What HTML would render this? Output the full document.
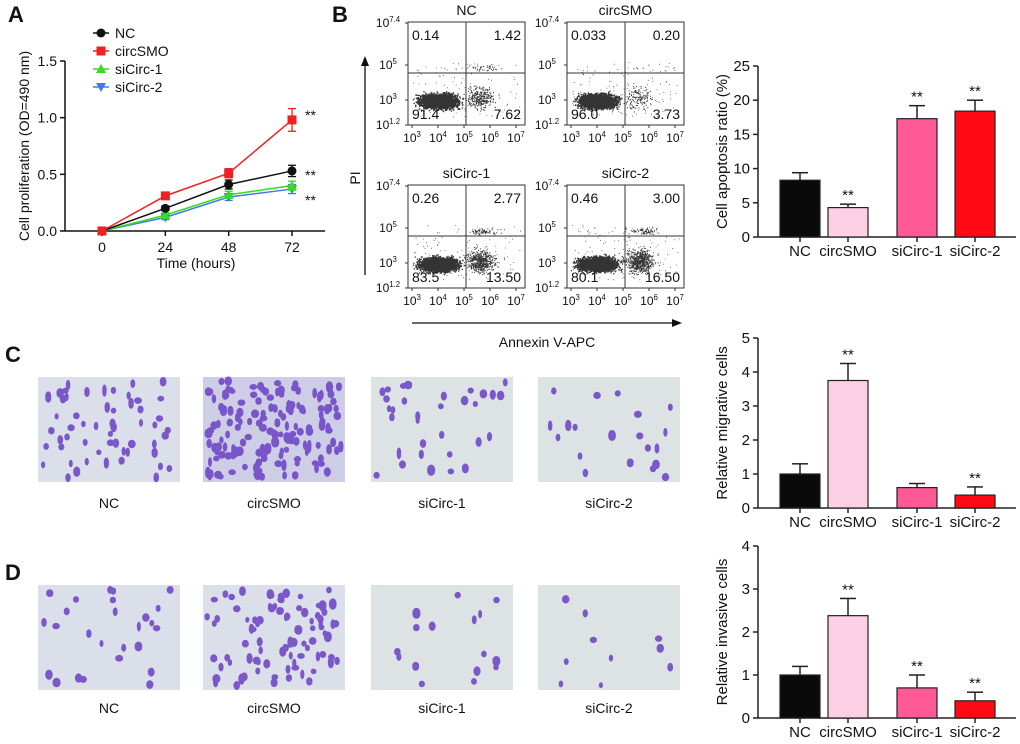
<!DOCTYPE html>
<html><head><meta charset="utf-8"><style>
html,body{margin:0;padding:0;background:#fff;width:1020px;height:744px;overflow:hidden}
svg text{font-family:"Liberation Sans",Arial,sans-serif;fill:#111}
</style></head><body>
<svg id="fig" width="1020" height="744" viewBox="0 0 1020 744" xmlns="http://www.w3.org/2000/svg"></svg>
<script>
// ---- Panel A data ----
const timePoints = [0, 24, 48, 72];
const yTicksA = [0.0, 0.5, 1.0, 1.5];
const ncVals = [0.0, 0.20, 0.41, 0.53];
const ncErr = [0.01, 0.02, 0.04, 0.05];
const smoVals = [0.0, 0.31, 0.51, 0.98];
const smoErr = [0.01, 0.02, 0.04, 0.10];
const si1Vals = [0.0, 0.14, 0.32, 0.40];
const si1Err = [0.01, 0.02, 0.03, 0.04];
const si2Vals = [0.0, 0.12, 0.30, 0.37];
const si2Err = [0.01, 0.02, 0.03, 0.04];
// ---- Bar chart data ----
const groups = ["NC", "circSMO", "siCirc-1", "siCirc-2"];
const apopVals = [8.3, 4.3, 17.3, 18.4];
const apopErr = [1.1, 0.5, 1.9, 1.6];
const apopStars = ["", "**", "**", "**"];
const apopTicks = [0, 5, 10, 15, 20, 25];
const migVals = [1.0, 3.75, 0.6, 0.38];
const migErr = [0.3, 0.5, 0.12, 0.24];
const migStars = ["", "**", "", "**"];
const migTicks = [0, 1, 2, 3, 4, 5];
const invVals = [1.0, 2.38, 0.7, 0.4];
const invErr = [0.2, 0.4, 0.3, 0.2];
const invStars = ["", "**", "**", "**"];
const invTicks = [0, 1, 2, 3, 4];
// ---- Flow quadrant data ----
const flowTitles = ["NC", "circSMO", "siCirc-1", "siCirc-2"];
const flowUL = ["0.14", "0.033", "0.26", "0.46"];
const flowUR = ["1.42", "0.20", "2.77", "3.00"];
const flowLL = ["91.4", "96.0", "83.5", "80.1"];
const flowLR = ["7.62", "3.73", "13.50", "16.50"];

const NS = "http://www.w3.org/2000/svg";
const svg = document.getElementById("fig");
function el(tag, attrs, parent) {
  const e = document.createElementNS(NS, tag);
  for (const k in attrs) e.setAttribute(k, attrs[k]);
  (parent || svg).appendChild(e);
  return e;
}
function txt(x, y, s, size, anchor, parent, extra) {
  const t = el("text", Object.assign({x: x, y: y, "font-size": size, "text-anchor": anchor || "middle"}, extra || {}), parent);
  t.textContent = s;
  return t;
}
function sup(x, y, base, exp, size, parent) {
  const t = el("text", {x: x, y: y, "font-size": size, "text-anchor": "middle"}, parent);
  const a = el("tspan", {}, t); a.textContent = base;
  const b = el("tspan", {"font-size": size * 0.65, dy: -size * 0.4}, t); b.textContent = exp;
  return t;
}
let seed = 12345;
function rnd() { seed = (seed * 16807) % 2147483647; return (seed - 1) / 2147483646; }
function gauss() { return (rnd() + rnd() + rnd() + rnd() - 2) / 1.15; }

// Panel letters
[["A", 8, 22], ["B", 332, 22], ["C", 5, 362], ["D", 5, 580]].forEach(p => {
  const t = txt(p[1], p[2], p[0], 22, "start", svg, {"font-weight": "bold"});
  
  
});

// ===== Panel A =====
const gA = el("g", {});


const xA = t => 102 + (t / 72) * 190;
const yA = v => 231 - (v / 1.5) * 170;
el("line", {x1: 65, y1: yA(1.5), x2: 65, y2: 231, stroke: "#111", "stroke-width": 1.5}, gA);
el("line", {x1: 65, y1: 231, x2: 325, y2: 231, stroke: "#111", "stroke-width": 1.5}, gA);
yTicksA.forEach(v => {
  el("line", {x1: 60, y1: yA(v), x2: 65, y2: yA(v), stroke: "#111", "stroke-width": 1.5}, gA);
  txt(57, yA(v) + 5, v.toFixed(1), 14, "end", gA);
});
timePoints.forEach(t => {
  el("line", {x1: xA(t), y1: 231, x2: xA(t), y2: 236, stroke: "#111", "stroke-width": 1.5}, gA);
  txt(xA(t), 252, String(t), 14, "middle", gA);
});
const yl = txt(0, 0, "Cell proliferation (OD=490 nm)", 14, "middle", gA, {transform: "translate(29,146) rotate(-90)"});


const xl = txt(196, 268, "Time (hours)", 14, "middle", gA);


function marker(type, x, y, color, parent) {
  if (type === "circle") return el("circle", {cx: x, cy: y, r: 4.5, fill: color}, parent);
  if (type === "square") return el("rect", {x: x - 4.5, y: y - 4.5, width: 9, height: 9, fill: color}, parent);
  if (type === "up") return el("polygon", {points: `${x},${y - 5} ${x - 5},${y + 4} ${x + 5},${y + 4}`, fill: color}, parent);
  return el("polygon", {points: `${x},${y + 5} ${x - 5},${y - 4} ${x + 5},${y - 4}`, fill: color}, parent);
}
const seriesA = [
  {name: "NC", vals: ncVals, err: ncErr, color: "#111", m: "circle"},
  {name: "circSMO", vals: smoVals, err: smoErr, color: "#ee2222", m: "square"},
  {name: "siCirc-1", vals: si1Vals, err: si1Err, color: "#33dd22", m: "up"},
  {name: "siCirc-2", vals: si2Vals, err: si2Err, color: "#4477ee", m: "down"}
];
[3, 2, 0, 1].forEach(i => {
  const s = seriesA[i];
  const g = el("g", {}, gA);
  
  
  el("polyline", {points: s.vals.map((v, j) => xA(timePoints[j]) + "," + yA(v)).join(" "), fill: "none", stroke: s.color, "stroke-width": 1.5}, g);
  s.vals.forEach((v, j) => {
    const x = xA(timePoints[j]);
    el("line", {x1: x, y1: yA(v + s.err[j]), x2: x, y2: yA(v - s.err[j]), stroke: s.color, "stroke-width": 1.3}, g);
    el("line", {x1: x - 4, y1: yA(v + s.err[j]), x2: x + 4, y2: yA(v + s.err[j]), stroke: s.color, "stroke-width": 1.3}, g);
    el("line", {x1: x - 4, y1: yA(v - s.err[j]), x2: x + 4, y2: yA(v - s.err[j]), stroke: s.color, "stroke-width": 1.3}, g);
    marker(s.m, x, yA(v), s.color, g);
  });
});
txt(305, yA(smoVals[3]) + 0, "**", 14, "start", gA);
txt(305, yA(ncVals[3]) + 9, "**", 14, "start", gA);
txt(305, yA(si2Vals[3]) + 16, "**", 14, "start", gA);
seriesA.forEach((s, i) => {
  const y = 33 + i * 18;
  const g = el("g", {}, gA);
  
  
  el("line", {x1: 93, y1: y, x2: 109, y2: y, stroke: s.color, "stroke-width": 1.5}, g);
  marker(s.m, 101, y, s.color, g);
  txt(115, y + 5, s.name, 14, "start", g);
});

// ===== Panel B flow plots =====
const boxes = [[408, 22], [567, 22], [408, 185], [567, 185]];
const bw = 117, bh = 103;
boxes.forEach((b, k) => {
  const g = el("g", {});
  
  
  const [bx, by] = b;
  const vx = bx + 58, hy = by + 51;
  let path = "";
  const nMain = 3200;
  for (let i = 0; i < nMain; i++) {
    const x = bx + 30 + gauss() * 17, y = by + 79 + gauss() * 6.5;
    if (x > bx + 1 && x < bx + bw - 1 && y > by + 1 && y < by + bh - 1) path += `M${x.toFixed(1)} ${y.toFixed(1)}h1.3v1.3h-1.3z`;
  }
  const lrFrac = parseFloat(flowLR[k]) / 100, urFrac = parseFloat(flowUR[k]) / 100;
  const nLR = Math.round(lrFrac * 4000), nUR = Math.round(urFrac * 2500);
  for (let i = 0; i < nLR; i++) {
    const x = bx + 72 + gauss() * 13, y = by + 76 + gauss() * 11;
    if (x > bx + 1 && x < bx + bw - 1 && y > by + 1 && y < by + bh - 1) path += `M${x.toFixed(1)} ${y.toFixed(1)}h1v1h-1z`;
  }
  for (let i = 0; i < nUR; i++) {
    const x = bx + 75 + gauss() * 14, y = by + 46 + gauss() * 3;
    if (x > bx + 1 && x < bx + bw - 1 && y > by + 1) path += `M${x.toFixed(1)} ${y.toFixed(1)}h1v1h-1z`;
  }
  for (let i = 0; i < 120; i++) {
    const x = bx + 5 + rnd() * (bw - 10), y = by + 40 + rnd() * 55;
    path += `M${x.toFixed(1)} ${y.toFixed(1)}h0.8v0.8h-0.8z`;
  }
  el("path", {d: path, fill: "#111", "fill-opacity": 0.85}, g);
  el("rect", {x: bx, y: by, width: bw, height: bh, fill: "none", stroke: "#333", "stroke-width": 1}, g);
  el("line", {x1: vx, y1: by, x2: vx, y2: by + bh, stroke: "#333"}, g);
  el("line", {x1: bx, y1: hy, x2: bx + bw, y2: hy, stroke: "#333"}, g);
  txt(bx + bw / 2, by - 7, flowTitles[k], 14, "middle", g);
  txt(bx + 4, by + 18, flowUL[k], 14, "start", g);
  txt(bx + bw - 4, by + 18, flowUR[k], 14, "end", g);
  txt(bx + 4, by + bh - 6, flowLL[k], 14, "start", g);
  txt(bx + bw - 4, by + bh - 6, flowLR[k], 14, "end", g);
  [["7.4", by + 1], ["5", by + 43], ["3", by + 78], ["1.2", by + bh]].forEach(t => {
    el("line", {x1: bx - 3, y1: t[1], x2: bx, y2: t[1], stroke: "#333"}, g);
    sup(bx - 20, t[1] + 4, "10", t[0], 12, g);
  });
  ["3", "4", "5", "6", "7"].forEach((e, i) => {
    const x = bx + 4 + i * 26;
    el("line", {x1: x, y1: by + bh, x2: x, y2: by + bh + 3, stroke: "#333"}, g);
    sup(x, by + bh + 17, "10", e, 12, g);
  });
});
const pia = el("g", {});


el("line", {x1: 365, y1: 275, x2: 365, y2: 64, stroke: "#111", "stroke-width": 1.3}, pia);
el("polygon", {points: "365,56 361,66 369,66", fill: "#111"}, pia);
txt(0, 0, "PI", 14, "middle", pia, {transform: "translate(360,178) rotate(-90)"});
const ana = el("g", {});


el("line", {x1: 412, y1: 323, x2: 674, y2: 323, stroke: "#111", "stroke-width": 1.3}, ana);
el("polygon", {points: "682,323 672,319 672,327", fill: "#111"}, ana);
txt(547, 347, "Annexin V-APC", 14, "middle", ana);

// ===== Bar charts =====
const barColors = ["#0a0a0a", "#fdd0e6", "#ff5a95", "#ff0a14"];
const barX = [780, 828, 897, 955];
const barW = 40;
function barChart(name, vals, errs, stars, ticks, y0, yTop, label) {
  const g = el("g", {});
  
  
  const maxV = ticks[ticks.length - 1];
  const ys = v => y0 - (v / maxV) * (y0 - yTop);
  el("line", {x1: 758, y1: yTop, x2: 758, y2: y0, stroke: "#222", "stroke-width": 1.5}, g);
  el("line", {x1: 758, y1: y0, x2: 1016, y2: y0, stroke: "#222", "stroke-width": 1.5}, g);
  ticks.forEach(t => {
    el("line", {x1: 753, y1: ys(t), x2: 758, y2: ys(t), stroke: "#222", "stroke-width": 1.5}, g);
    txt(750, ys(t) + 5, String(t), 15, "end", g);
  });
  vals.forEach((v, i) => {
    const cx = barX[i] + barW / 2;
    const e = el("rect", {x: barX[i], y: ys(v), width: barW, height: y0 - ys(v), fill: barColors[i], stroke: "#222", "stroke-width": 1.2}, g);
    
    
    el("line", {x1: cx, y1: ys(v), x2: cx, y2: ys(v + errs[i]), stroke: "#222", "stroke-width": 1.5}, g);
    el("line", {x1: cx - 8, y1: ys(v + errs[i]), x2: cx + 8, y2: ys(v + errs[i]), stroke: "#222", "stroke-width": 1.5}, g);
    el("line", {x1: cx, y1: y0, x2: cx, y2: y0 + 5, stroke: "#222", "stroke-width": 1.5}, g);
    if (stars[i]) txt(cx, ys(v + errs[i]) - 4, stars[i], 15, "middle", g);
    txt(cx, y0 + 19, groups[i], 15, "middle", g);
  });
  const mid = (y0 + yTop) / 2;
  txt(0, 0, label, 15, "middle", g, {transform: `translate(727,${mid}) rotate(-90)`});
}
barChart("apoptosis-bar-chart", apopVals, apopErr, apopStars, apopTicks, 237, 66, "Cell apoptosis ratio (%)");
barChart("migration-bar-chart", migVals, migErr, migStars, migTicks, 508, 338, "Relative migrative cells");
barChart("invasion-bar-chart", invVals, invErr, invStars, invTicks, 718, 546, "Relative invasive cells");

// ===== Micrographs =====
const imgX = [38, 203, 371, 538];
const cellCounts = [[55, 150, 32, 20], [26, 85, 16, 10]];
const rows = [[377, 503, "migration"], [585, 708, "invasion"]];
rows.forEach((r, ri) => {
  imgX.forEach((x, i) => {
    const g = el("g", {});
    
    
    const bg = (ri === 0 && i === 1) ? "#cdcde6" : (i >= 2 ? "#dde3e4" : "#dbdfe9");
    el("rect", {x: x, y: r[0], width: 142, height: 105, fill: bg}, g);
    let d = "";
    const n = cellCounts[ri][i];
    for (let c = 0; c < n; c++) {
      let cx = x + 4 + rnd() * 134, cy = r[0] + 4 + rnd() * 97;
      const rx = 2 + rnd() * 2, ry = 2.8 + rnd() * 2.2;
      d += `M${(cx - rx).toFixed(1)} ${cy.toFixed(1)}a${rx.toFixed(1)} ${ry.toFixed(1)} 0 1 0 ${(2 * rx).toFixed(1)} 0a${rx.toFixed(1)} ${ry.toFixed(1)} 0 1 0 ${(-2 * rx).toFixed(1)} 0z`;
    }
    el("path", {d: d, fill: "#6a3fc4", "fill-opacity": 0.85}, g);
    txt(x + 71, r[1] + 5, groups[i], 14, "middle", g);
  });
});
</script>
</body></html>
